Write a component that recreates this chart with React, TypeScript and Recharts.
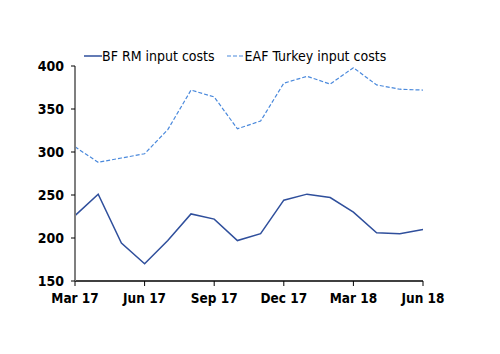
import React from "react";
import { LineChart, Line, XAxis, YAxis } from "recharts";

const months = [
  "Mar 17", "Apr 17", "May 17", "Jun 17", "Jul 17", "Aug 17", "Sep 17", "Oct 17",
  "Nov 17", "Dec 17", "Jan 18", "Feb 18", "Mar 18", "Apr 18", "May 18", "Jun 18",
];
const bfRm = [226, 251, 194, 170, 197, 228, 222, 197, 205, 244, 251, 247, 230, 206, 205, 210];
const eafTurkey = [306, 288, 293, 298, 326, 372, 364, 327, 336, 380, 388, 379, 398, 378, 373, 372];
const yTicks = [150, 200, 250, 300, 350, 400];

const BF_COLOR = "#2f4f9c";
const EAF_COLOR = "#4a89dc";
const FONT = "'DejaVu Sans Condensed', 'DejaVu Sans', sans-serif";

export default function App() {
  const data = months.map((m, i) => ({
    month: m,
    bf: bfRm[i],
    eaf: eafTurkey[i],
  }));

  return (
    <div style={{ position: "relative", width: 484, height: 338, fontFamily: FONT, background: "#fff" }}>
      <div
        style={{
          position: "absolute",
          top: 40,
          left: 76,
          display: "flex",
          alignItems: "center",
          fontSize: 14,
          color: "#000",
          whiteSpace: "nowrap",
        }}
      >
        <svg width={18} height={10}>
          <line x1={0} y1={5} x2={18} y2={5} stroke={BF_COLOR} strokeWidth={1.5} />
        </svg>
        <span>BF RM input costs</span>
        <svg width={18} height={10} style={{ marginLeft: 12 }}>
          <line x1={0} y1={5} x2={18} y2={5} stroke={EAF_COLOR} strokeWidth={1.2} strokeDasharray="4 2" />
        </svg>
        <span>EAF Turkey input costs</span>
      </div>
      <LineChart
        width={484}
        height={338}
        data={data}
        margin={{ top: 58, right: 69, left: 17, bottom: 35 }}
      >
        <XAxis
          dataKey="month"
          interval={2}
          axisLine={{ stroke: "#000", strokeWidth: 1.5 }}
          tickLine={{ stroke: "#000" }}
          tickSize={5}
          height={30}
          tick={{ fill: "#000", fontSize: 13.5, fontWeight: "bold", fontFamily: FONT }}
          tickMargin={7}
        />
        <YAxis
          domain={[150, 400]}
          ticks={yTicks}
          width={50}
          axisLine={{ stroke: "#7f7f7f", strokeWidth: 2 }}
          tickLine={{ stroke: "#000" }}
          tickSize={4}
          tickMargin={7}
          tick={{ fill: "#000", fontSize: 14, fontWeight: "bold", fontFamily: FONT }}
        />
        <Line
          dataKey="bf"
          name="BF RM input costs"
          type="linear"
          stroke={BF_COLOR}
          strokeWidth={1.5}
          dot={false}
          isAnimationActive={false}
        />
        <Line
          dataKey="eaf"
          name="EAF Turkey input costs"
          type="linear"
          stroke={EAF_COLOR}
          strokeWidth={1.2}
          strokeDasharray="4 2"
          dot={false}
          isAnimationActive={false}
        />
      </LineChart>
    </div>
  );
}
